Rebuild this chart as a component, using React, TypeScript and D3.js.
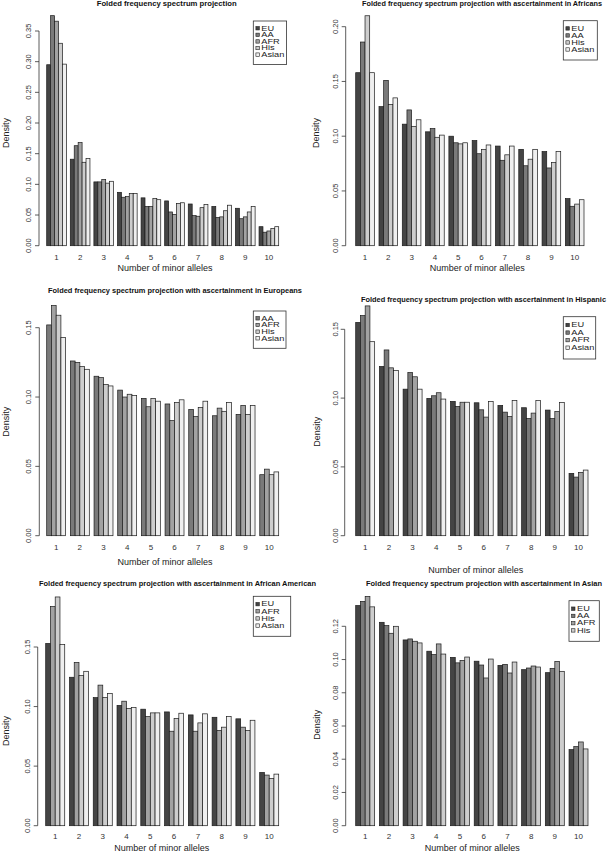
import { useMemo } from "react";
import * as d3 from "d3";

// number of minor alleles (x groups)
const alleles = ["1", "2", "3", "4", "5", "6", "7", "8", "9", "10"];

// panel 1: all SNPs
const allEU = [0.295, 0.141, 0.104, 0.087, 0.078, 0.073, 0.068, 0.064, 0.061, 0.031];
const allAA = [0.375, 0.163, 0.104, 0.079, 0.064, 0.055, 0.049, 0.046, 0.044, 0.022];
const allAFR = [0.366, 0.168, 0.108, 0.08, 0.064, 0.051, 0.048, 0.047, 0.047, 0.024];
const allHis = [0.33, 0.136, 0.102, 0.085, 0.077, 0.069, 0.062, 0.057, 0.055, 0.028];
const allAsian = [0.296, 0.142, 0.105, 0.085, 0.075, 0.07, 0.067, 0.066, 0.064, 0.031];

// panel 2: ascertained in Africans
const afrEU = [0.158, 0.127, 0.111, 0.104, 0.1, 0.096, 0.091, 0.088, 0.086, 0.043];
const afrAA = [0.186, 0.151, 0.124, 0.107, 0.094, 0.084, 0.078, 0.073, 0.071, 0.036];
const afrHis = [0.21, 0.129, 0.109, 0.099, 0.093, 0.088, 0.083, 0.079, 0.076, 0.038];
const afrAsian = [0.158, 0.135, 0.115, 0.101, 0.094, 0.092, 0.091, 0.088, 0.086, 0.042];

// panel 3: ascertained in Europeans
const eurAA = [0.152, 0.126, 0.115, 0.105, 0.099, 0.095, 0.091, 0.0865, 0.0875, 0.044];
const eurAFR = [0.166, 0.125, 0.114, 0.1, 0.093, 0.083, 0.086, 0.092, 0.094, 0.048];
const eurHis = [0.159, 0.122, 0.109, 0.102, 0.099, 0.096, 0.0925, 0.0897, 0.0875, 0.044];
const eurAsian = [0.143, 0.12, 0.108, 0.101, 0.097, 0.098, 0.097, 0.096, 0.094, 0.046];

// panel 4: ascertained in Hispanic
const hisEU = [0.155, 0.123, 0.1065, 0.0998, 0.0976, 0.0966, 0.0947, 0.093, 0.0913, 0.0453];
const hisAA = [0.16, 0.135, 0.1186, 0.1017, 0.094, 0.0915, 0.0898, 0.0852, 0.0852, 0.0426];
const hisAFR = [0.167, 0.122, 0.1155, 0.1039, 0.097, 0.0862, 0.0867, 0.0891, 0.0903, 0.046];
const hisAsian = [0.141, 0.12, 0.1065, 0.0993, 0.097, 0.0976, 0.0983, 0.0983, 0.0969, 0.0477];

// panel 5: ascertained in African American
const aaEU = [0.153, 0.1246, 0.1075, 0.101, 0.0978, 0.0955, 0.093, 0.091, 0.0897, 0.0447];
const aaAFR = [0.184, 0.137, 0.118, 0.1045, 0.0916, 0.0793, 0.0793, 0.08, 0.0827, 0.0425];
const aaHis = [0.192, 0.126, 0.1075, 0.0983, 0.0947, 0.09, 0.0863, 0.0827, 0.08, 0.0397];
const aaAsian = [0.152, 0.1296, 0.111, 0.0992, 0.0947, 0.0944, 0.0939, 0.0916, 0.0885, 0.0433];

// panel 6: ascertained in Asian
const asnEU = [0.1325, 0.1224, 0.1118, 0.105, 0.1013, 0.099, 0.0965, 0.0939, 0.0921, 0.0458];
const asnAA = [0.135, 0.1204, 0.1124, 0.103, 0.098, 0.0967, 0.0971, 0.0949, 0.0947, 0.0476];
const asnAFR = [0.138, 0.1158, 0.111, 0.1094, 0.0995, 0.0889, 0.0919, 0.0961, 0.0989, 0.0504];
const asnHis = [0.1317, 0.12, 0.11, 0.1033, 0.1015, 0.1003, 0.0985, 0.0955, 0.0929, 0.0462];

const popColor: Record<string, string> = {
    EU: "#444444",
    AA: "#7a7a7a",
    AFR: "#a2a2a2",
    His: "#cdcdcd",
    Asian: "#efefef",
};

const TITLE = "Folded frequency spectrum projection";

// layout per panel (pixel geometry)
const panels = [
    {
        title: TITLE,
        series: ["EU", "AA", "AFR", "His", "Asian"],
        values: [allEU, allAA, allAFR, allHis, allAsian],
        yMax: 0.35, yStep: 0.05,
        bx0: 46.7, bx1: 278.7, by0: 245.7, byTop: 31,
        axisX: 39, tickLabelX: 28.3,
        titleX: 166.7, titleY: 3.8, titleW: 140,
        densX: 6, densY: 133,
        xLabY: 256.7, xTitleX: 165, xTitleY: 268.3,
        legend: [253.3, 21, 33.3, 43.5],
    },
    {
        title: TITLE + " with ascertainment in Africans",
        series: ["EU", "AA", "His", "Asian"],
        values: [afrEU, afrAA, afrHis, afrAsian],
        yMax: 0.2, yStep: 0.05,
        bx0: 355.7, bx1: 584, by0: 245.7, byTop: 26.7,
        axisX: 345.7, tickLabelX: 335.7,
        titleX: 482, titleY: 4, titleW: 240,
        densX: 315.7, densY: 133,
        xLabY: 256.7, xTitleX: 477.3, xTitleY: 268.3,
        legend: [563.3, 20.7, 34, 39.3],
    },
    {
        title: TITLE + " with ascertainment in Europeans",
        series: ["AA", "AFR", "His", "Asian"],
        values: [eurAA, eurAFR, eurHis, eurAsian],
        yMax: 0.15, yStep: 0.05,
        bx0: 46.7, bx1: 278.7, by0: 535.7, byTop: 327.7,
        axisX: 39.3, tickLabelX: 28.3,
        titleX: 175, titleY: 291, titleW: 254,
        densX: 6, densY: 421.7,
        xLabY: 546.7, xTitleX: 165, xTitleY: 561.7,
        legend: [253.3, 311, 32.7, 37.3],
    },
    {
        title: TITLE + " with ascertainment in Hispanic",
        series: ["EU", "AA", "AFR", "Asian"],
        values: [hisEU, hisAA, hisAFR, hisAsian],
        yMax: 0.15, yStep: 0.05,
        bx0: 355.7, bx1: 588, by0: 535.7, byTop: 329.3,
        axisX: 344.7, tickLabelX: 335,
        titleX: 483.5, titleY: 300, titleW: 245,
        densX: 316.7, densY: 431.7,
        xLabY: 546.7, xTitleX: 475.7, xTitleY: 569.5,
        legend: [563.3, 316.7, 32.4, 42.3],
    },
    {
        title: TITLE + " with ascertainment in African American",
        series: ["EU", "AFR", "His", "Asian"],
        values: [aaEU, aaAFR, aaHis, aaAsian],
        yMax: 0.15, yStep: 0.05,
        bx0: 45.7, bx1: 278.7, by0: 825.7, byTop: 647,
        axisX: 37.7, tickLabelX: 27.3,
        titleX: 177.5, titleY: 584, titleW: 277,
        densX: 5.5, densY: 731,
        xLabY: 836.3, xTitleX: 161.7, xTitleY: 847.5,
        legend: [253.3, 596.3, 37.4, 40],
    },
    {
        title: TITLE + " with ascertainment in Asian",
        series: ["EU", "AA", "AFR", "His"],
        values: [asnEU, asnAA, asnAFR, asnHis],
        yMax: 0.12, yStep: 0.02,
        bx0: 355.7, bx1: 588, by0: 825.7, byTop: 626.3,
        axisX: 345.7, tickLabelX: 335.7,
        titleX: 484, titleY: 584, titleW: 236,
        densX: 316.7, densY: 724.7,
        xLabY: 836.3, xTitleX: 472.3, xTitleY: 847.5,
        legend: [569, 600.7, 30.3, 40.6],
    },
];

const FONT = "'Liberation Sans', Arial, Helvetica, sans-serif";
const fmt = d3.format(".2f");

function Panel({ p }: { p: (typeof panels)[number] }) {
    const n = p.series.length;

    const x = useMemo(
        () =>
            d3
                .scaleBand<string>()
                .domain(alleles)
                .range([p.bx0, p.bx1])
                .paddingInner(1 / (n + 1))
                .paddingOuter(0),
        [p, n]
    );
    const xs = useMemo(
        () => d3.scaleBand<string>().domain(p.series).range([0, x.bandwidth()]),
        [p, x]
    );
    const y = useMemo(
        () => d3.scaleLinear().domain([0, p.yMax]).range([p.by0, p.byTop]),
        [p]
    );
    const ticks = d3.range(0, p.yMax + p.yStep / 2, p.yStep);

    const [lx, ly, lw, lh] = p.legend;
    const rowH = lh / (n + 1.6);

    return (
        <g>
            <text
                x={p.titleX}
                y={p.titleY}
                dy="0.35em"
                textAnchor="middle"
                fontSize={7}
                fontWeight="bold"
                textLength={p.titleW}
                lengthAdjust="spacingAndGlyphs"
                fill="#111"
            >
                {p.title}
            </text>

            {alleles.map((a, gi) => (
                <g key={a} transform={`translate(${x(a)},0)`}>
                    {p.series.map((s, si) => {
                        const v = p.values[si][gi];
                        return (
                            <rect
                                key={s}
                                x={xs(s)}
                                y={y(v)}
                                width={xs.bandwidth()}
                                height={y(0) - y(v)}
                                fill={popColor[s]}
                                stroke="#1a1a1a"
                                strokeWidth={0.7}
                            />
                        );
                    })}
                </g>
            ))}

            {/* y axis */}
            <line
                x1={p.axisX}
                x2={p.axisX}
                y1={y(0)}
                y2={y(ticks[ticks.length - 1])}
                stroke="#333"
                strokeWidth={0.8}
            />
            {ticks.map((t) => (
                <g key={t}>
                    <line
                        x1={p.axisX - 4}
                        x2={p.axisX}
                        y1={y(t)}
                        y2={y(t)}
                        stroke="#333"
                        strokeWidth={0.8}
                    />
                    <text
                        transform={`translate(${p.tickLabelX},${y(t)}) rotate(-90)`}
                        dy="0.35em"
                        textAnchor="middle"
                        fontSize={7.5}
                        fill="#333"
                    >
                        {fmt(t)}
                    </text>
                </g>
            ))}
            <text
                transform={`translate(${p.densX},${p.densY}) rotate(-90)`}
                dy="0.35em"
                textAnchor="middle"
                fontSize={9}
                fill="#222"
            >
                Density
            </text>

            {/* x labels */}
            {alleles.map((a) => (
                <text
                    key={a}
                    x={(x(a) ?? 0) + x.bandwidth() / 2}
                    y={p.xLabY}
                    dy="0.35em"
                    textAnchor="middle"
                    fontSize={8}
                    fill="#333"
                >
                    {a}
                </text>
            ))}
            <text
                x={p.xTitleX}
                y={p.xTitleY}
                dy="0.35em"
                textAnchor="middle"
                fontSize={9}
                fill="#222"
            >
                Number of minor alleles
            </text>

            {/* legend */}
            <rect
                x={lx}
                y={ly}
                width={lw}
                height={lh}
                fill="#fff"
                stroke="#333"
                strokeWidth={0.8}
            />
            {p.series.map((s, i) => {
                const cy = ly + rowH * (i + 1.1);
                return (
                    <g key={s}>
                        <rect
                            x={lx + 2.6}
                            y={cy - 1.7}
                            width={3.4}
                            height={3.4}
                            fill={popColor[s]}
                            stroke="#222"
                            strokeWidth={0.6}
                        />
                        <text
                            transform={`translate(${lx + 8},${cy}) scale(1.4,1)`}
                            dy="0.35em"
                            fontSize={6.6}
                            fill="#222"
                        >
                            {s}
                        </text>
                    </g>
                );
            })}
        </g>
    );
}

export default function App() {
    return (
        <div style={{ position: "absolute", left: 0, top: 0, background: "#fff" }}>
            <svg
                width={608}
                height={853}
                viewBox="0 0 608 853"
                style={{ display: "block", fontFamily: FONT }}
            >
                <rect width={608} height={853} fill="#fff" />
                {panels.map((p, i) => (
                    <Panel key={i} p={p} />
                ))}
            </svg>
        </div>
    );
}
